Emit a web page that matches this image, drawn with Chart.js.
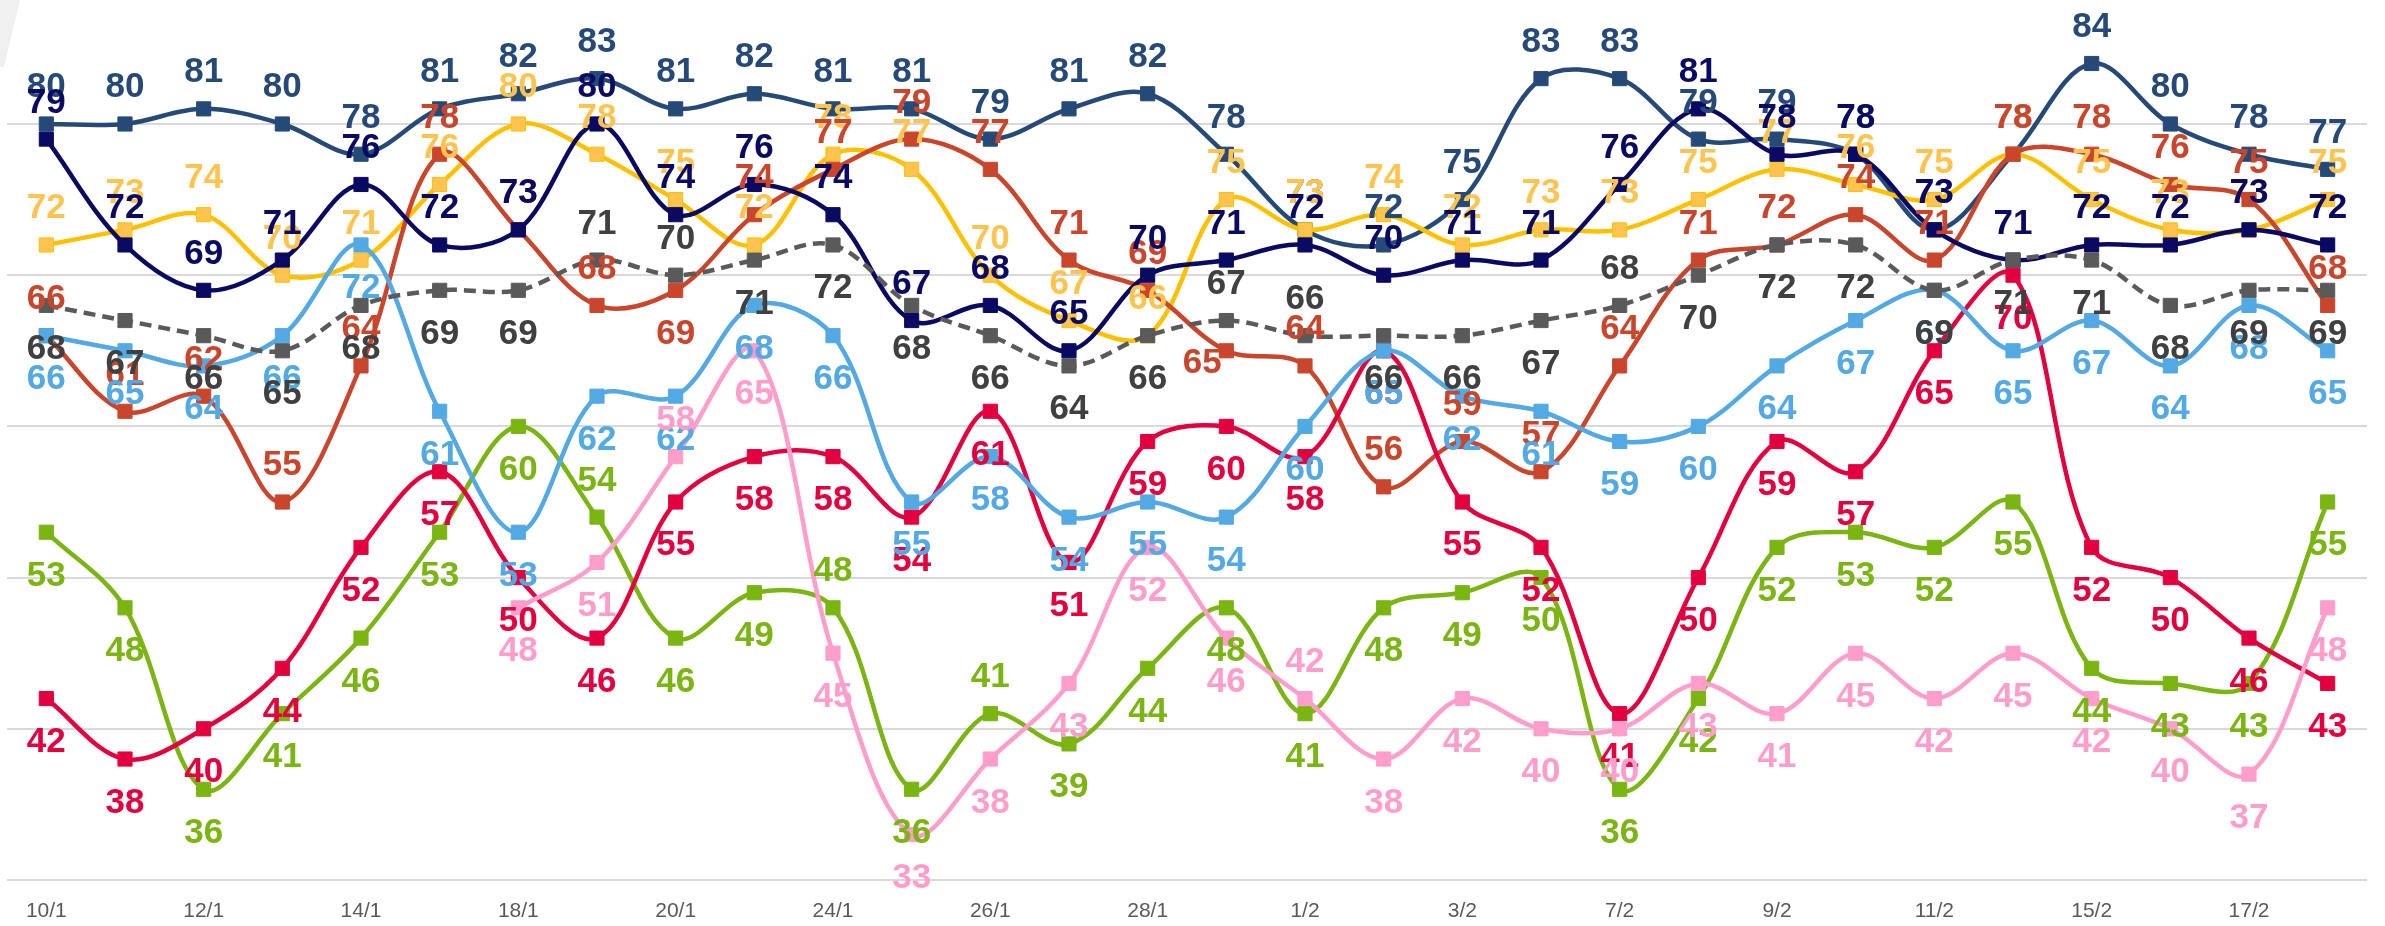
<!DOCTYPE html>
<html>
<head>
<meta charset="utf-8">
<script src="https://cdn.jsdelivr.net/npm/chart.js@4.4.1/dist/chart.umd.min.js"></script>
<style>
html,body{margin:0;padding:0;background:#fff;overflow:hidden}
#wrap{width:2385px;height:926px;position:relative}
</style>
</head>
<body>
<div id="wrap"><canvas id="c"></canvas></div>
<script>
// ---- data ----
const tickLabels = ['10/1','12/1','14/1','18/1','20/1','24/1','26/1','28/1','1/2','3/2','7/2','9/2','11/2','15/2','17/2'];
const categories = [];
tickLabels.forEach(t => { categories.push(t); categories.push(''); });

const seriesA = [80,80,81,80,78,81,82,83,81,82,81,81,79,81,82,78,73,72,75,83,83,79,79,78,73,78,84,80,78,77]; // dark slate
const seriesB = [79,72,69,71,76,72,73,80,74,76,74,67,68,65,70,71,72,70,71,71,76,81,78,78,73,71,72,72,73,72]; // navy
const seriesC = [72,73,74,70,71,76,80,78,75,72,78,77,70,67,66,75,73,74,72,73,73,75,77,76,75,78,75,73,73,75]; // yellow
const seriesD = [66,61,62,55,64,78,73,68,69,74,77,79,77,71,69,65,64,56,59,57,64,71,72,74,71,78,78,76,75,68]; // orange-red
const seriesE = [68,67,66,65,68,69,69,71,70,71,72,68,66,64,66,67,66,66,66,67,68,70,72,72,69,71,71,68,69,69]; // gray dashed
const seriesF = [66,65,64,66,72,61,53,62,62,68,66,55,58,54,55,54,60,65,62,61,59,60,64,67,69,65,67,64,68,65]; // light blue
const seriesG = [42,38,40,44,52,57,50,46,55,58,58,54,61,51,59,60,58,65,55,52,41,50,59,57,65,70,52,50,46,43]; // red
const seriesH = [53,48,36,41,46,53,60,54,46,49,48,36,41,39,44,48,41,48,49,50,36,42,52,53,52,55,44,43,43,55]; // green
const seriesI = [null,null,null,null,null,null,48,51,58,65,45,33,38,43,52,46,42,38,42,40,40,43,41,45,42,45,42,40,37,48]; // pink

// label placement: default side per series + exceptions (point index -> side)
const labelSide = {
  A: {def:'a', ex:{}},
  B: {def:'a', ex:{}},
  C: {def:'a', ex:{}},
  D: {def:'a', ex:{8:'b', 15:'l'}},
  E: {def:'b', ex:{7:'a', 8:'a', 15:'a', 16:'a', 20:'a'}},
  F: {def:'b', ex:{}},
  G: {def:'b', ex:{}},
  H: {def:'b', ex:{7:'a', 10:'a', 12:'a'}},
  I: {def:'b', ex:{8:'a', 16:'a'}}
};

const styles = {
  A: {line:'#264A78', fill:'#264A78', text:'#264A78', z:8},
  B: {line:'#0B0A63', fill:'#0B0A63', text:'#0B0A63', z:5},
  C: {line:'#FFC000', fill:'#FFC44F', text:'#FFC44F', z:7},
  D: {line:'#C9462C', fill:'#C9462C', text:'#C9462C', z:6},
  E: {line:'#5A5A5A', fill:'#5A5A5A', text:'#404040', z:1, dash:[12,7]},
  F: {line:'#52A9E4', fill:'#52A9E4', text:'#52A9E4', z:2},
  G: {line:'#E3003F', fill:'#E3003F', text:'#E3003F', z:3},
  H: {line:'#7AB511', fill:'#7AB511', text:'#7AB511', z:4},
  I: {line:'#FF9DCB', fill:'#FF9DCB', text:'#FF9DCB', z:0}
};
const seriesList = {A:seriesA,B:seriesB,C:seriesC,D:seriesD,E:seriesE,F:seriesF,G:seriesG,H:seriesH,I:seriesI};
const drawOrder = ['A','C','D','B','H','G','F','E','I'];

const datasets = Object.keys(seriesList).map(k => {
  const s = styles[k];
  return {
    label: k,
    key: k,
    data: seriesList[k],
    borderColor: s.line,
    backgroundColor: s.fill,
    pointBackgroundColor: s.fill,
    pointBorderColor: s.line,
    pointBorderWidth: 1,
    pointStyle: 'rect',
    pointRadius: 10,
    borderWidth: 4.5,
    borderDash: s.dash || [],
    tension: 0.35,
    fill: false,
    clip: false,
    order: s.z
  };
});

const cornerPlugin = {
  id: 'corner',
  beforeDraw(chart) {
    const ctx = chart.ctx;
    ctx.save();
    ctx.fillStyle = '#F0F0F0';
    ctx.beginPath();
    ctx.moveTo(0,0); ctx.lineTo(20,0); ctx.lineTo(4,67); ctx.lineTo(0,67); ctx.closePath();
    ctx.fill();
    ctx.restore();
  }
};

const labelPlugin = {
  id: 'vlabels',
  afterDatasetsDraw(chart) {
    const ctx = chart.ctx;
    ctx.save();
    ctx.font = 'bold 35px "Liberation Sans", Arial, sans-serif';
    ctx.textAlign = 'center';
    ctx.textBaseline = 'alphabetic';
    drawOrder.forEach(k => {
      const di = chart.data.datasets.findIndex(d => d.key === k);
      const ds = chart.data.datasets[di];
      const meta = chart.getDatasetMeta(di);
      const side = labelSide[k];
      ctx.fillStyle = styles[k].text;
      meta.data.forEach((pt, i) => {
        const v = ds.data[i];
        if (v == null) return;
        const p = side.ex[i] || side.def;
        let dx = 0, dy;
        if (p === 'a') dy = -39;
        else if (p === 'b') dy = 41;
        else { dx = -24; dy = 10; }
        ctx.fillText(String(v), pt.x + dx, pt.y + dy + 12.5);
      });
    });
    ctx.restore();
  }
};

new Chart(document.getElementById('c'), {
  type: 'line',
  data: { labels: categories, datasets },
  options: {
    responsive: true,
    maintainAspectRatio: false,
    animation: false,
    devicePixelRatio: 1,
    layout: { autoPadding: false, padding: { left: 7, right: 18, top: 0, bottom: 0 } },
    plugins: { legend: { display: false }, tooltip: { enabled: false } },
    scales: {
      x: {
        offset: true,
        grid: { display: false, drawTicks: false },
        border: { display: false },
        ticks: {
          autoSkip: false, maxRotation: 0, minRotation: 0,
          color: '#595959',
          font: { family: '"Liberation Sans", Arial, sans-serif', size: 21 },
          padding: 19
        },
        afterFit(s) { s.height = 46; }
      },
      y: {
        min: 30, max: 88.2,
        ticks: { display: false, stepSize: 10, includeBounds: false },
        grid: { color: '#D9D9D9', lineWidth: 2, drawTicks: false },
        border: { display: false },
        afterFit(s) { s.width = 0; }
      }
    }
  },
  plugins: [cornerPlugin, labelPlugin]
});
</script>
</body>
</html>
